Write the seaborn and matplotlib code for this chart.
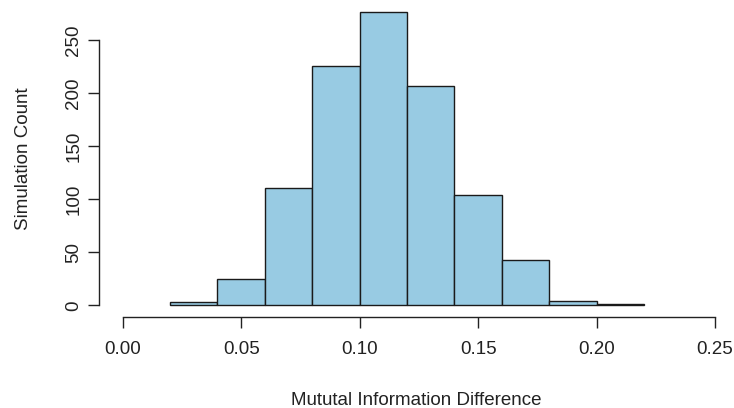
import numpy as np
import matplotlib
matplotlib.use("Agg")
import matplotlib.pyplot as plt
import seaborn as sns

# histogram counts (bin width 0.02)
bin_edges = [0.02, 0.04, 0.06, 0.08, 0.10, 0.12, 0.14, 0.16, 0.18, 0.20, 0.22]
counts = [3, 25, 111, 226, 277, 207, 104, 43, 4, 1]
x_ticks = [0.00, 0.05, 0.10, 0.15, 0.20, 0.25]
y_ticks = [0, 50, 100, 150, 200, 250]

centers = [(a + b) / 2 for a, b in zip(bin_edges[:-1], bin_edges[1:])]

sns.set_style("white")
plt.rcParams["font.family"] = ["Liberation Sans", "DejaVu Sans"]

W, H = 734, 408
fig = plt.figure(figsize=(W / 100, H / 100), dpi=100)
ax = fig.add_axes([99 / W, (H - 317) / H, (W - 99) / W, 317 / H])

sns.histplot(x=centers, weights=counts, bins=bin_edges, color="#98cbe3",
             edgecolor="#1a1a1a", linewidth=1.0, alpha=1.0, ax=ax)

ax.set_xlim(-0.01, 0.258)
ax.set_ylim(-11, 288)
ax.set_xticks(x_ticks)
ax.set_xticklabels([f"{v:.2f}" for v in x_ticks])
ax.set_yticks(y_ticks)
ax.set_yticklabels([str(v) for v in y_ticks], rotation=90, va="center")

for s in ["top", "right"]:
    ax.spines[s].set_visible(False)
ax.spines["bottom"].set_bounds(0, 0.25)
ax.spines["left"].set_bounds(0, 250)
for s in ["bottom", "left"]:
    ax.spines[s].set_color("#222222")
    ax.spines[s].set_linewidth(1.0)

fs = 13.5
ax.tick_params(axis="both", direction="out", length=8, width=1.0,
               color="#222222", labelsize=fs, labelcolor="#222222",
               bottom=True, left=True)
ax.tick_params(axis="x", pad=9)
ax.tick_params(axis="y", pad=4)

ax.set_xlabel("Mututal Information Difference", fontsize=fs, color="#222222", labelpad=25)
ax.set_ylabel("Simulation Count", fontsize=fs, color="#222222", labelpad=24)

fig.savefig("out.png", dpi=100)
